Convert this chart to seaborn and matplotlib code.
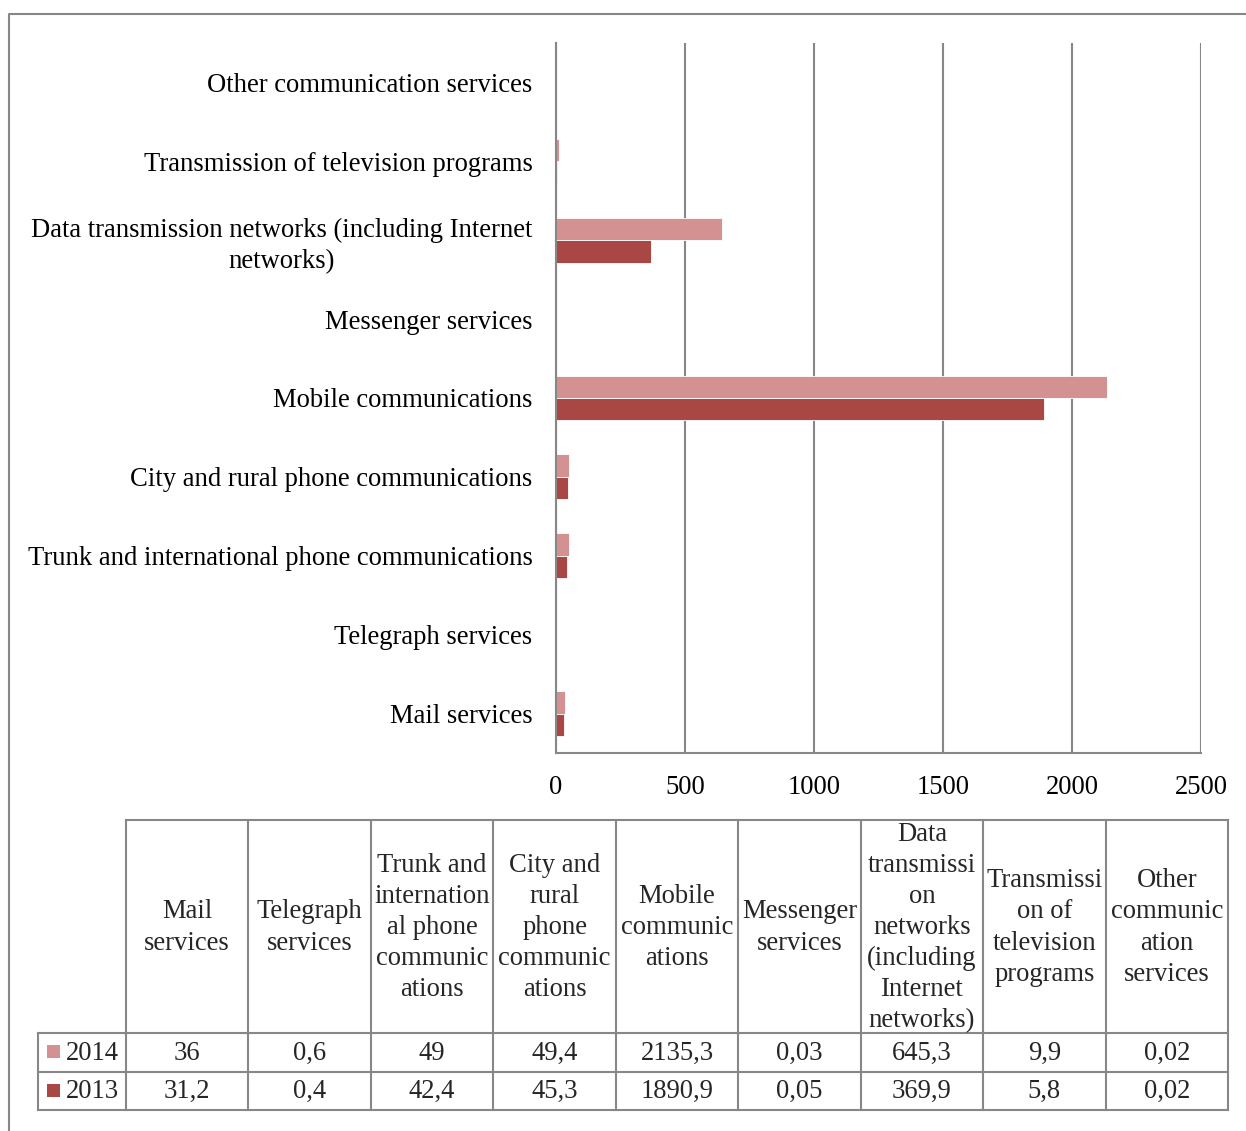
import textwrap

import matplotlib
matplotlib.use("Agg")
import matplotlib.pyplot as plt
from matplotlib.patches import Rectangle
import pandas as pd
import seaborn as sns

# Service categories, bottom to top as listed in the table
categories = [
    "Mail services",
    "Telegraph services",
    "Trunk and international phone communications",
    "City and rural phone communications",
    "Mobile communications",
    "Messenger services",
    "Data transmission networks (including Internet networks)",
    "Transmission of television programs",
    "Other communication services",
]

# Column headers of the data table (wrapped to fit the cells)
table_headers = [
    "Mail\nservices",
    "Telegraph\nservices",
    "Trunk and\ninternation\nal phone\ncommunic\nations",
    "City and\nrural\nphone\ncommunic\nations",
    "Mobile\ncommunic\nations",
    "Messenger\nservices",
    "Data\ntransmissi\non\nnetworks\n(including\nInternet\nnetworks)",
    "Transmissi\non of\ntelevision\nprograms",
    "Other\ncommunic\nation\nservices",
]

years = ["2014", "2013"]
values_2014 = [36, 0.6, 49, 49.4, 2135.3, 0.03, 645.3, 9.9, 0.02]
values_2013 = [31.2, 0.4, 42.4, 45.3, 1890.9, 0.05, 369.9, 5.8, 0.02]
x_ticks = [0, 500, 1000, 1500, 2000, 2500]

COLOR_2014 = "#D39291"
COLOR_2013 = "#A94745"
GRID = "#878787"
FONT = "Liberation Serif"
FS = 19.2
LS = 1.32

W, H = 1246, 1131
DPI = 100

sns.set_theme(style="white")
plt.rcParams["font.family"] = [FONT, "DejaVu Serif"]

df = pd.DataFrame({
    "category": categories * 2,
    "year": ["2014"] * len(categories) + ["2013"] * len(categories),
    "value": values_2014 + values_2013,
})

fig = plt.figure(figsize=(W / DPI, H / DPI), dpi=DPI)
fig.patch.set_facecolor("white")

ax = fig.add_axes([556 / W, 1 - 753 / H, (1201 - 556) / W, (753 - 43) / H])
sns.barplot(
    data=df, y="category", x="value", hue="year",
    order=categories[::-1], hue_order=years,
    palette=[COLOR_2014, COLOR_2013], orient="h", width=0.57,
    saturation=1, edgecolor="white", linewidth=0.6,
    legend=False, ax=ax,
)
ax.set_xlim(0, 2500)
ax.set_xticks(x_ticks)
ax.set_xticklabels([str(t) for t in x_ticks], fontsize=FS)
ax.set_yticklabels([textwrap.fill(c, 46) for c in categories[::-1]], fontsize=FS)
for lab in ax.get_yticklabels():
    lab.set_multialignment("center")
    lab.set_linespacing(LS)
ax.set_xlabel("")
ax.set_ylabel("")
ax.tick_params(axis="x", length=0, pad=15.5, colors="black")
ax.tick_params(axis="y", length=0, pad=17, colors="black")
ax.set_axisbelow(True)
ax.xaxis.grid(True, color=GRID, linewidth=1.5)
ax.yaxis.grid(False)
for side in ("top", "right"):
    ax.spines[side].set_visible(False)
for side in ("left", "bottom"):
    ax.spines[side].set_color(GRID)
    ax.spines[side].set_linewidth(1.5)

# Overlay in pixel coordinates for the data table and outer frame
ov = fig.add_axes([0, 0, 1, 1], zorder=5)
ov.set_xlim(0, W)
ov.set_ylim(H, 0)
ov.axis("off")
ov.patch.set_alpha(0)

line_kw = dict(color=GRID, linewidth=1.5, solid_capstyle="projecting")

# outer frame
ov.plot([8.5, 8.5, W + 5], [H + 5, 13.5, 13.5], **line_kw)

col_edges = [126 + i * (1228 - 126) / 9 for i in range(10)]
first_left = 38
row_edges = [820, 1033, 1071.5, 1110]

# header row
ov.plot([col_edges[0], col_edges[-1]], [row_edges[0]] * 2, **line_kw)
for x in col_edges:
    ov.plot([x, x], [row_edges[0], row_edges[-1]], **line_kw)
for y in row_edges[1:]:
    ov.plot([first_left, col_edges[-1]], [y, y], **line_kw)
ov.plot([first_left, first_left], [row_edges[1], row_edges[-1]], **line_kw)

for i, head in enumerate(table_headers):
    cx = (col_edges[i] + col_edges[i + 1]) / 2
    ov.text(cx, (row_edges[0] + row_edges[1]) / 2 + 1, head, ha="center", va="center",
            multialignment="center", fontsize=FS, linespacing=LS)


def fmt(v):
    return f"{v:g}".replace(".", ",")


rows = [(years[0], values_2014, COLOR_2014), (years[1], values_2013, COLOR_2013)]
for r, (label, vals, color) in enumerate(rows):
    cy = (row_edges[r + 1] + row_edges[r + 2]) / 2
    ov.add_patch(Rectangle((47, cy - 7), 13, 13, facecolor=color, edgecolor="none"))
    ov.text(66, cy + 1, label, ha="left", va="center", fontsize=FS)
    for i, v in enumerate(vals):
        cx = (col_edges[i] + col_edges[i + 1]) / 2
        ov.text(cx, cy + 1, fmt(v), ha="center", va="center", fontsize=FS)

fig.savefig("out.png", dpi=DPI)
